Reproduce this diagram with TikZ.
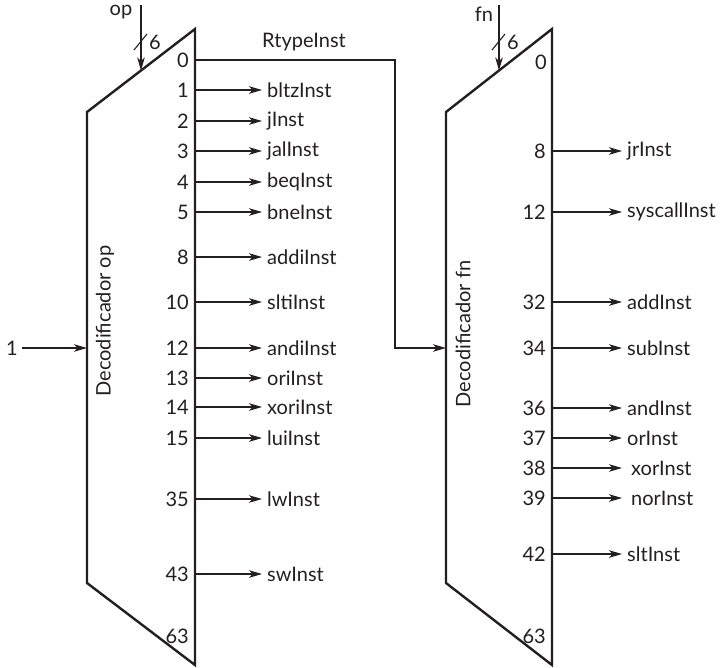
\documentclass[tikz,border=0pt]{standalone}
\usepackage{fontspec}
\setmainfont{Lato}
\usetikzlibrary{arrows.meta}
\definecolor{ink}{HTML}{231F20}
\begin{document}
\begin{tikzpicture}[x=1pt,y=-1pt,
  every node/.style={font=\fontsize{20}{23}\selectfont, text=ink, inner sep=0pt},
  decbox/.style={draw=ink, line width=2.4pt, line join=miter},
  wire/.style={draw=ink, line width=1.1pt},
  arr/.style={wire, -{Stealth[length=13pt,width=7.5pt,inset=3.5pt]}},
  num/.style={anchor=east},
  sig/.style={anchor=west, inner xsep=5pt},
  bus/.style={draw=ink, line width=1.1pt}
]
\useasboundingbox (0,0) rectangle (727,667);

% decoders
\coordinate (Ltl) at (87,112); \coordinate (Ltr) at (195,29);
\coordinate (Lbr) at (195,665); \coordinate (Lbl) at (87,583);
\draw[decbox] (Ltl) -- (Ltr) -- (Lbr) -- (Lbl) -- cycle;
\coordinate (Rtl) at (446,112); \coordinate (Rtr) at (552,29);
\coordinate (Rbr) at (552,665); \coordinate (Rbl) at (446,583);
\draw[decbox] (Rtl) -- (Rtr) -- (Rbr) -- (Rbl) -- cycle;

\node[rotate=90] (decop) at (105,321) {Decodificador op};
\node[rotate=90] (decfn) at (463,334) {Decodificador fn};

% op input
\node (op) at (121,12) {op};
\coordinate (opsrc) at (141,5);
\coordinate (opdst) at (141,70.5);
\draw[arr] (opsrc) -- (opdst);
\coordinate (ops1) at (134,50); \coordinate (ops2) at (147,34);
\draw[bus] (ops1) -- (ops2);
\node (op6) at (155,42) {6};

% fn input
\node (fn) at (484,14) {fn};
\coordinate (fnsrc) at (499,5);
\coordinate (fndst) at (499,70.5);
\draw[arr] (fnsrc) -- (fndst);
\coordinate (fns1) at (492,50); \coordinate (fns2) at (505,34);
\draw[bus] (fns1) -- (fns2);
\node (fn6) at (513,42) {6};

% enable input
\node (one) at (12,348) {1};
\coordinate (ensrc) at (22,348);
\coordinate (en) at (87,348);
\draw[arr] (ensrc) -- (en);

% left outputs
\node[num] (L0) at (189,60) {0};
\node[num] (L63) at (189,636) {63};
\foreach \n/\y/\s in {1/90/bltzInst,2/121/jInst,3/151/jalInst,4/182/beqInst,5/212/bneInst,
  8/257/addiInst,10/302/sltiInst,12/348/andiInst,13/378/oriInst,14/407/xoriInst,
  15/438/luiInst,35/499/lwInst,43/574/swInst}{
  \node[num] (Ln\n) at (189,\y) {\n};
  \coordinate (Lp\n) at (195,\y);
  \node[sig] (Ls\n) at (262,\y) {\s};
  \draw[arr] (Lp\n) -- (Ls\n.west);
}

% RtypeInst
\coordinate (Lp0) at (195,60);
\coordinate (rt1) at (395,60);
\coordinate (rt2) at (395,348);
\coordinate (Rin) at (446,348);
\node (rtl) at (304,42) {RtypeInst};
\draw[arr] (Lp0) -- (rt1) -- (rt2) -- (Rin);

% right outputs
\node[num] (R0) at (547,62) {0};
\node[num] (R63) at (546,636) {63};
\foreach \n/\y/\s/\dx in {8/151/jrInst/0,12/212/syscallInst/0,32/302/addInst/0,34/348/subInst/0,
  36/408/andInst/0,37/438/orInst/0,38/468/xorInst/4,39/498/norInst/4,42/554/sltInst/0}{
  \node[num] (Rn\n) at (546,\y) {\n};
  \coordinate (Rp\n) at (552,\y);
  \node[sig, inner xsep=5pt+\dx pt] (Rs\n) at (622,\y) {\s};
  \draw[arr] (Rp\n) -- (Rs\n.west);
}
\end{tikzpicture}
\end{document}
